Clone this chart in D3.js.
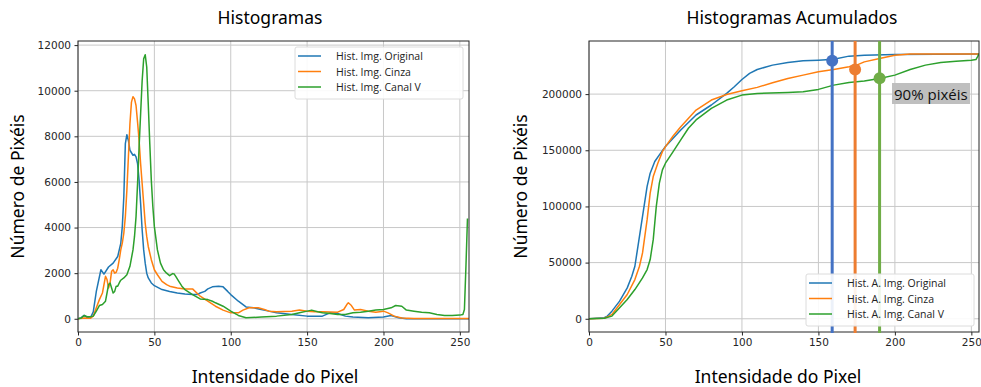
<!DOCTYPE html>
<html>
<head>
<meta charset="utf-8">
<script src="https://cdn.jsdelivr.net/npm/d3@7/dist/d3.min.js"></script>
<style>
  body { margin: 0; background: #fff; }
  svg { display: block; }
  .tick text { font-family: "DejaVu Sans", sans-serif; font-size: 10.5px; fill: #262626; }
  .tick line { stroke: #262626; }
</style>
</head>
<body>
<div id="chart"></div>
<script>
// Histogram values (intensity -> pixel count)
const histOrigX = [0,2,4,6,8,10,12,15,17,20,23,26,28,29,30,31,32,33,34,36,37,38,39,40,41,42,43,44,45,46,48,50,55,60,65,70,75,78,80,83,85,88,92,95,98,100,105,110,115,120,125,130,140,150,160,165,170,175,180,190,200,205,210,215,230,256];
const histOrigY = [0,40,150,60,20,300,1200,2150,1960,2270,2440,2730,3300,4040,5350,7680,8070,7820,7390,7170,7210,7100,6800,6080,5060,3900,3020,2440,2000,1790,1570,1450,1280,1200,1130,1090,1060,1060,1130,1200,1310,1400,1430,1400,1200,1060,770,520,480,407,335,260,190,116,116,260,230,116,73,44,73,145,44,0,0,0];

const histCinzaX = [0,4,8,10,12,14,16,18,19,20,21,22,23,24,25,26,27,28,29,30,31,32,33,34,35,36,37,38,39,40,41,42,43,44,45,46,48,50,52,55,58,60,65,70,75,80,85,90,95,100,105,108,112,118,122,125,130,140,145,150,155,160,170,174,176,177,179,181,185,190,195,200,203,207,212,220,256];
const histCinzaY = [0,30,20,116,480,840,1130,1860,1720,1350,1570,2080,2150,2000,2040,2220,2590,3020,3320,3750,4480,5640,7100,8550,9500,9740,9640,9350,8620,7820,6800,5930,5060,4190,3610,3170,2590,2150,1930,1640,1500,1430,1350,1310,1310,990,770,550,380,260,260,380,480,480,407,335,305,335,380,335,305,305,290,407,625,700,580,380,407,335,290,335,260,116,30,10,10];

const histVX = [0,2,4,6,8,10,12,14,16,18,19,20,21,22,23,24,25,26,27,28,30,32,34,36,37,38,39,40,41,42,43,44,45,46,47,48,49,50,52,54,56,58,60,62,63,64,66,68,70,75,80,85,88,90,95,100,105,110,120,130,140,145,150,153,157,160,165,170,175,180,185,190,195,200,205,208,212,215,220,225,230,235,240,245,250,252,253,254,255];
const histVY = [0,30,145,87,87,116,335,580,625,770,1130,1500,1570,1350,1130,1200,1430,1430,1570,1690,1790,1930,2300,3020,3610,4480,5930,7530,8990,10440,11400,11580,11040,9420,7680,6080,4920,4040,3020,2440,2150,2000,1890,1980,1960,1860,1640,1430,1280,1060,870,840,770,700,550,335,145,44,73,116,190,260,335,380,305,260,230,190,190,260,290,335,380,407,480,580,550,380,335,290,260,190,145,145,160,190,407,2300,4400];

// Cumulative histogram values
const acumOrigX = [0,5,10,12,15,20,25,28,30,32,35,38,40,43,46,50,55,60,70,80,90,95,100,105,110,120,130,140,150,160,170,180,200,255];
const acumOrigY = [0,500,890,2370,6800,15700,27500,37900,46750,64500,91100,117800,129600,140000,145900,153300,160700,168000,181400,190300,200600,206500,213000,218400,221900,225800,228100,229600,230200,231100,233800,234600,235200,235600];

const acumCinzaX = [0,5,10,13,15,20,25,30,33,35,38,40,42,45,48,50,55,60,70,80,90,100,110,120,130,140,150,160,170,175,180,190,200,210,255];
const acumCinzaY = [0,300,500,2370,3850,12700,21600,34900,46750,58600,88200,111900,126600,138500,148800,153300,162700,171000,185800,194700,199700,203000,206000,210100,213900,216900,219900,221900,224300,225800,228700,231700,234600,235700,235700];

const acumVX = [0,5,10,15,20,25,30,35,38,40,42,44,46,48,50,55,60,65,70,80,90,100,110,130,140,150,160,170,180,190,200,210,220,230,240,250,253,254,255];
const acumVY = [0,300,500,2370,9760,17200,26000,36400,43800,52700,70400,100000,120700,132600,138500,148800,159200,169600,177000,187300,194700,199100,200600,201500,202100,204200,208000,210400,211600,213900,216900,221900,225800,228100,229300,230200,230800,233200,235900];

// 90% markers
const markX = [159, 174, 190];
const markY = [229600, 221900, 214200];

const xTicks = [0, 50, 100, 150, 200, 250];
const histYTicks = [0, 2000, 4000, 6000, 8000, 10000, 12000];
const acumYTicks = [0, 50000, 100000, 150000, 200000];

const histLabels = ['Hist. Img. Original', 'Hist. Img. Cinza', 'Hist. Img. Canal V'];
const acumLabels = ['Hist. A. Img. Original', 'Hist. A. Img. Cinza', 'Hist. A. Img. Canal V'];

const lineColors = ['#1f77b4', '#ff7f0e', '#2ca02c'];
const markColors = ['#4472c4', '#ed7d31', '#70ad47'];

const width = 981, height = 387;
const svg = d3.select('#chart').append('svg')
  .attr('width', width).attr('height', height);
svg.append('rect').attr('width', width).attr('height', height).attr('fill', '#fff');

function drawPanel(opts) {
  const { left, right, top, bottom, xDomain, yDomain, yTicks, series, title, titleX, xLabelX, yLabelX } = opts;
  const x = d3.scaleLinear().domain(xDomain).range([left, right]);
  const y = d3.scaleLinear().domain(yDomain).range([bottom, top]);
  const g = svg.append('g');

  const clipId = 'clip' + Math.round(left);
  g.append('clipPath').attr('id', clipId).append('rect')
    .attr('x', left).attr('y', top).attr('width', right - left).attr('height', bottom - top);

  // grid
  g.append('g').selectAll('line').data(xTicks).join('line')
    .attr('x1', d => x(d)).attr('x2', d => x(d))
    .attr('y1', top).attr('y2', bottom)
    .attr('stroke', '#c8c8c8').attr('stroke-width', 1);
  g.append('g').selectAll('line').data(yTicks).join('line')
    .attr('x1', left).attr('x2', right)
    .attr('y1', d => y(d)).attr('y2', d => y(d))
    .attr('stroke', '#c8c8c8').attr('stroke-width', 1);

  // lines
  const line = d3.line().x(d => x(d[0])).y(d => y(d[1]));
  const plot = g.append('g').attr('clip-path', `url(#${clipId})`);
  series.forEach((s, i) => {
    plot.append('path')
      .datum(d3.zip(s[0], s[1]))
      .attr('fill', 'none')
      .attr('stroke', lineColors[i])
      .attr('stroke-width', 1.5)
      .attr('stroke-linejoin', 'round')
      .attr('d', line);
  });

  // axes
  g.append('g')
    .attr('transform', `translate(0,${bottom})`)
    .call(d3.axisBottom(x).tickValues(xTicks).tickSize(3.5).tickPadding(3.5))
    .call(a => a.select('.domain').remove());
  g.append('g')
    .attr('transform', `translate(${left},0)`)
    .call(d3.axisLeft(y).tickValues(yTicks).tickFormat(d3.format('d')).tickSize(3.5).tickPadding(3.5))
    .call(a => a.select('.domain').remove());

  g.append('rect')
    .attr('x', left).attr('y', top).attr('width', right - left).attr('height', bottom - top)
    .attr('fill', 'none').attr('stroke', '#262626').attr('stroke-width', 1);

  // titles
  svg.append('text').attr('x', titleX).attr('y', 24)
    .attr('text-anchor', 'middle')
    .style('font-family', '"Noto Sans", sans-serif').style('font-size', '17.5px')
    .text(title);
  svg.append('text').attr('x', xLabelX).attr('y', 383)
    .attr('text-anchor', 'middle')
    .style('font-family', '"Noto Sans", sans-serif').style('font-size', '17.5px')
    .text('Intensidade do Pixel');
  svg.append('text')
    .attr('transform', `translate(${yLabelX},${(top + bottom) / 2}) rotate(-90)`)
    .attr('text-anchor', 'middle')
    .style('font-family', '"Noto Sans", sans-serif').style('font-size', '17.5px')
    .text('Número de Pixéis');

  return { x, y, g };
}

function drawLegend(lx, ly, w, h, labels) {
  const lg = svg.append('g');
  lg.append('rect').attr('x', lx).attr('y', ly).attr('width', w).attr('height', h)
    .attr('rx', 2).attr('fill', '#fff').attr('fill-opacity', 0.9)
    .attr('stroke', '#dcdcdc');
  labels.forEach((t, i) => {
    const yy = ly + 9 + i * 15.5;
    lg.append('line').attr('x1', lx + 3).attr('x2', lx + 26).attr('y1', yy).attr('y2', yy)
      .attr('stroke', lineColors[i]).attr('stroke-width', 1.5);
    lg.append('text').attr('x', lx + 41).attr('y', yy + 4)
      .style('font-family', '"Open Sans", sans-serif').style('font-size', '10.5px')
      .attr('fill', '#222')
      .text(t);
  });
}

// left panel
drawPanel({
  left: 78, right: 469, top: 41, bottom: 332,
  xDomain: [0, 256], yDomain: [-580, 12180], yTicks: histYTicks,
  series: [[histOrigX, histOrigY], [histCinzaX, histCinzaY], [histVX, histVY]],
  title: 'Histogramas', titleX: 270, xLabelX: 275, yLabelX: 24
});
drawLegend(295, 47, 168, 52, histLabels);

// right panel
const right = drawPanel({
  left: 589, right: 979, top: 41, bottom: 332,
  xDomain: [0, 255], yDomain: [-11775, 247275], yTicks: acumYTicks,
  series: [[acumOrigX, acumOrigY], [acumCinzaX, acumCinzaY], [acumVX, acumVY]],
  title: 'Histogramas Acumulados', titleX: 792, xLabelX: 778, yLabelX: 527
});

// 90% markers
markX.forEach((mx, i) => {
  svg.append('line')
    .attr('x1', right.x(mx)).attr('x2', right.x(mx))
    .attr('y1', 41).attr('y2', 333)
    .attr('stroke', markColors[i]).attr('stroke-width', 3);
  svg.append('circle')
    .attr('cx', right.x(mx)).attr('cy', right.y(markY[i])).attr('r', 6)
    .attr('fill', markColors[i]);
});

drawLegend(806, 274, 168, 52, acumLabels);

// label box
svg.append('rect').attr('x', 892).attr('y', 83).attr('width', 78).attr('height', 21)
  .attr('fill', '#bfbfbf');
svg.append('text').attr('x', 894).attr('y', 100)
  .style('font-family', '"Open Sans", sans-serif').style('font-size', '15px')
  .attr('fill', '#111')
  .text('90% pixéis');
</script>
</body>
</html>
